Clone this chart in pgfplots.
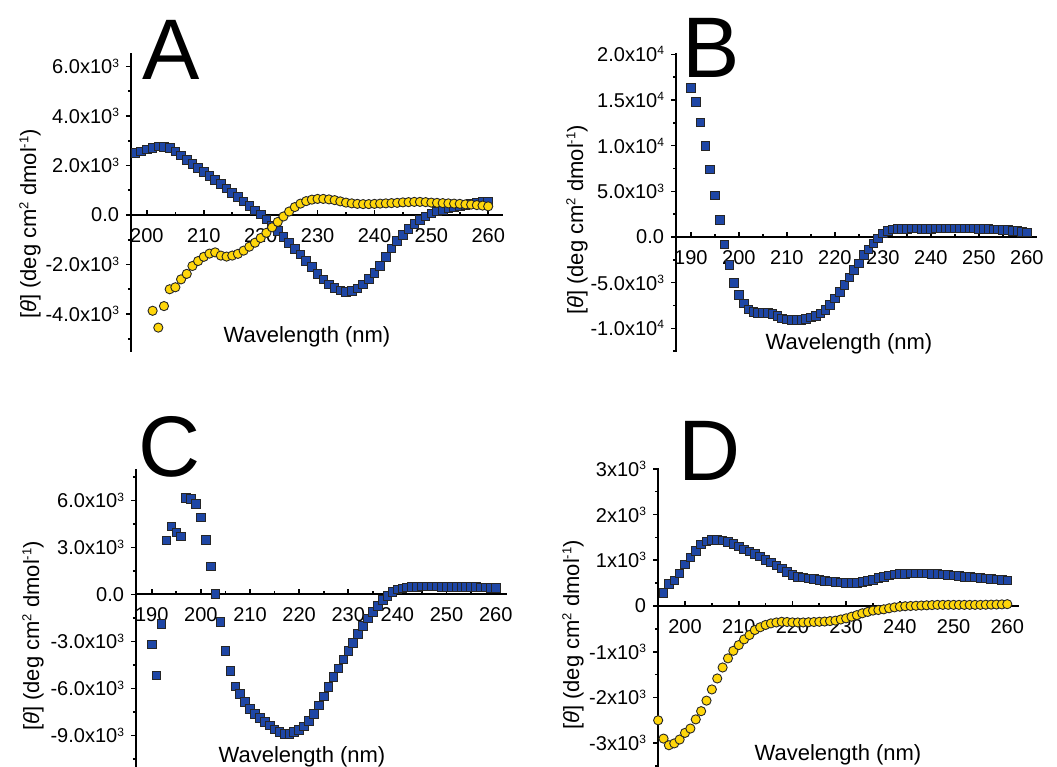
\documentclass[border=0pt]{standalone}
\usepackage{fontspec}
\setmainfont{Liberation Sans}
\usepackage{pgfplots}
\pgfplotsset{compat=1.18}

\definecolor{cdblue}{RGB}{30,70,165}
\definecolor{cdyellow}{RGB}{255,214,10}

\newcommand{\ex}[1]{x10\raisebox{3.4pt}{\fontsize{6}{6}\selectfont #1}}
\newcommand{\su}[1]{\raisebox{3.8pt}{\fontsize{6.5}{6.5}\selectfont #1}}
\newcommand{\ylab}{[\textit{θ}] (deg cm\su{2} dmol\su{-1})}

\pgfplotsset{
  cd/.style={
    scale only axis, anchor=south west,
    axis x line=middle, axis y line=left,
    axis line style={-, line width=1pt, black},
    tick align=outside,
    major tick length=2.5pt, minor tick length=1.5pt,
    every tick/.append style={black, line width=0.8pt},
    every major x tick/.append style={yshift=2.5pt},
    every minor x tick/.append style={yshift=1.5pt},
    xtick={190,200,...,260}, minor xtick={185,195,...,265},
    scaled y ticks=false,
    tick label style={font=\fontsize{10}{12}\selectfont},
    /pgf/number format/assume math mode=true,
    xticklabel style={yshift=-0.5pt},
  },
  bsq/.style={only marks, mark=square*, mark size=2.15pt,
    mark options={fill=cdblue, draw=black!85, line width=0.45pt}},
  ycirc/.style={only marks, mark=*, mark size=2.3pt,
    mark options={fill=cdyellow, draw=black!85, line width=0.45pt}},
}

\begin{document}
\begin{tikzpicture}
\useasboundingbox (0,0) rectangle (528.5pt,383.5pt);

% ---------- A ----------
\begin{axis}[cd, at={(65.5pt,207.5pt)}, width=186pt, height=149.5pt,
  xmin=197.2, xmax=262.6, ymin=-5535, ymax=6545,
  ytick={-4000,-2000,...,6000}, minor ytick={-5000,-3000,...,5000},
  yticklabels={-4.0\ex{3},-2.0\ex{3},0.0,2.0\ex{3},4.0\ex{3},6.0\ex{3}}]
\addplot[bsq] coordinates {
(197,2420) (198,2500) (199,2560) (200,2650) (201,2720) (202,2770) (203,2760)
(204,2700) (205,2560) (206,2400) (207,2230) (208,2060) (209,1900) (210,1740)
(211,1580) (212,1420) (213,1260) (214,1080) (215,900) (216,720) (217,540)
(218,360) (219,190) (220,20) (221,-180) (222,-420) (223,-650) (224,-880)
(225,-1120) (226,-1360) (227,-1600) (228,-1850) (229,-2100) (230,-2380)
(231,-2600) (232,-2800) (233,-2950) (234,-3050) (235,-3100) (236,-3080)
(237,-2970) (238,-2800) (239,-2580) (240,-2330) (241,-2050) (242,-1700)
(243,-1350) (244,-1050) (245,-800) (246,-560) (247,-360) (248,-200) (249,-60)
(250,60) (251,140) (252,210) (253,270) (254,320) (255,370) (256,410)
(257,450) (258,490) (259,520) (260,550)
};
\addplot[ycirc] coordinates {
(201,-3870) (202,-4550) (203,-3680) (204,-3000) (205,-2920) (206,-2600)
(207,-2380) (208,-2060) (209,-1860) (210,-1690) (211,-1560) (212,-1510)
(213,-1640) (214,-1680) (215,-1640) (216,-1570) (217,-1440) (218,-1280)
(219,-1120) (220,-930) (221,-720) (222,-500) (223,-280) (224,-60) (225,140)
(226,320) (227,460) (228,560) (229,620) (230,650) (231,650) (232,630)
(233,600) (234,550) (235,500) (236,470) (237,450) (238,440) (239,440)
(240,450) (241,460) (242,470) (243,480) (244,490) (245,510) (246,520)
(247,530) (248,530) (249,520) (250,500) (251,490) (252,480) (253,470)
(254,460) (255,450) (256,430) (257,420) (258,400) (259,380) (260,350)
};
\end{axis}

% ---------- B ----------
\begin{axis}[cd, at={(338pt,207.5pt)}, width=180.5pt, height=149.5pt,
  xmin=186.9, xmax=262.1, ymin=-12591, ymax=20146,
  ytick={-10000,-5000,...,20000}, minor ytick={-12500,-7500,...,17500},
  yticklabels={-1.0\ex{4},-5.0\ex{3},0.0,5.0\ex{3},1.0\ex{4},1.5\ex{4},2.0\ex{4}}]
\addplot[bsq] coordinates {
(190,16350) (191,14800) (192,12550) (193,9950) (194,7400) (195,4530)
(196,1860) (197,-800) (198,-3070) (199,-5000) (200,-6350) (201,-7260)
(202,-7920) (203,-8180) (204,-8290) (205,-8290) (206,-8290) (207,-8430)
(208,-8650) (209,-8900) (210,-9010) (211,-9090) (212,-9090) (213,-9090)
(214,-8980) (215,-8830) (216,-8650) (217,-8360) (218,-7990) (219,-7450)
(220,-6720) (221,-5990) (222,-5260) (223,-4420) (224,-3610) (225,-2880)
(226,-1970) (227,-1350) (228,-690) (229,-150) (230,400) (231,690) (232,840)
(233,880) (234,900) (235,910) (236,920) (237,920) (238,910) (239,910)
(240,910) (241,920) (242,920) (243,930) (244,930) (245,940) (246,950)
(247,950) (248,940) (249,930) (250,910) (251,890) (252,870) (253,840)
(254,810) (255,780) (256,740) (257,690) (258,630) (259,580) (260,520)
};
\end{axis}

% ---------- C ----------
\begin{axis}[cd, at={(68pt,0pt)}, width=185.35pt, height=149pt,
  xmin=186.8, xmax=262.24, ymin=-11021, ymax=8000,
  ytick={-9000,-6000,...,6000}, minor ytick={-10500,-7500,...,7500},
  yticklabels={-9.0\ex{3},-6.0\ex{3},-3.0\ex{3},0.0,3.0\ex{3},6.0\ex{3}}]
\addplot[bsq] coordinates {
(190,-3200) (191,-5170) (192,-1900) (193,3440) (194,4330) (195,3950)
(196,3690) (197,6150) (198,6090) (199,5770) (200,4910) (201,3480) (202,1770)
(203,40) (204,-1750) (205,-3630) (206,-4890) (207,-5870) (208,-6340)
(209,-6880) (210,-7300) (211,-7620) (212,-7880) (213,-8160) (214,-8370)
(215,-8630) (216,-8800) (217,-8900) (218,-8900) (219,-8800) (220,-8650)
(221,-8430) (222,-8090) (223,-7620) (224,-7090) (225,-6510) (226,-5920)
(227,-5270) (228,-4740) (229,-4160) (230,-3610) (231,-3100) (232,-2540)
(233,-2030) (234,-1540) (235,-1110) (236,-750) (237,-360) (238,-110)
(239,170) (240,320) (241,380) (242,440) (243,470) (244,490) (245,500)
(246,500) (247,500) (248,500) (249,490) (250,480) (251,480) (252,480)
(253,480) (254,480) (255,470) (256,460) (257,440) (258,430) (259,420) (260,420)
};
\end{axis}

% ---------- D ----------
\begin{axis}[cd, at={(329pt,0pt)}, width=180.5pt, height=149.5pt,
  xmin=194.97, xmax=262.18, ymin=-3521, ymax=3018,
  ytick={-3000,-2000,...,3000}, minor ytick={-3500,-2500,...,2500},
  yticklabels={-3\ex{3},-2\ex{3},-1\ex{3},0,1\ex{3},2\ex{3},3\ex{3}}]
\addplot[bsq] coordinates {
(196,280) (197,480) (198,555) (199,715) (200,910) (201,1060) (202,1210)
(203,1350) (204,1410) (205,1445) (206,1445) (207,1430) (208,1395) (209,1360)
(210,1300) (211,1240) (212,1190) (213,1140) (214,1080) (215,1010) (216,950)
(217,890) (218,825) (219,745) (220,680) (221,640) (222,620) (223,605)
(224,585) (225,570) (226,550) (227,535) (228,525) (229,518) (230,510)
(231,505) (232,510) (233,525) (234,545) (235,575) (236,610) (237,640)
(238,670) (239,690) (240,700) (241,705) (242,708) (243,710) (244,710)
(245,710) (246,705) (247,700) (248,690) (249,680) (250,670) (251,655)
(252,640) (253,630) (254,620) (255,610) (256,600) (257,590) (258,580)
(259,570) (260,560)
};
\addplot[ycirc] coordinates {
(195,-2500) (196,-2900) (197,-3045) (198,-3005) (199,-2920) (200,-2775)
(201,-2680) (202,-2480) (203,-2300) (204,-2070) (205,-1825) (206,-1585)
(207,-1345) (208,-1145) (209,-980) (210,-855) (211,-730) (212,-635)
(213,-525) (214,-465) (215,-415) (216,-380) (217,-360) (218,-345) (219,-350)
(220,-358) (221,-360) (222,-360) (223,-355) (224,-350) (225,-345) (226,-340)
(227,-330) (228,-320) (229,-295) (230,-270) (231,-235) (232,-200) (233,-160)
(234,-130) (235,-100) (236,-88) (237,-73) (238,-50) (239,-30) (240,-15)
(241,-5) (242,0) (243,5) (244,10) (245,15) (246,20) (247,25) (248,25)
(249,25) (250,25) (251,25) (252,25) (253,25) (254,25) (255,25) (256,28)
(257,30) (258,32) (259,35) (260,40)
};
\end{axis}

% labels
\begin{scope}[every node/.style={inner sep=0pt}]
\node[rotate=90, font=\fontsize{11}{13}\selectfont] at (15pt,271.5pt) {\ylab};
\node[rotate=90, font=\fontsize{11}{13}\selectfont] at (288.5pt,273.5pt) {\ylab};
\node[rotate=90, font=\fontsize{11}{13}\selectfont] at (16.5pt,65.5pt) {\ylab};
\node[rotate=90, font=\fontsize{11}{13}\selectfont] at (286.5pt,66pt) {\ylab};
\node[font=\fontsize{11}{13}\selectfont] at (153.5pt,215pt) {Wavelength (nm)};
\node[font=\fontsize{11}{13}\selectfont] at (424.5pt,211.5pt) {Wavelength (nm)};
\node[font=\fontsize{11}{13}\selectfont] at (151pt,5pt) {Wavelength (nm)};
\node[font=\fontsize{11}{13}\selectfont] at (419pt,6pt) {Wavelength (nm)};
\node[anchor=base west, font=\fontsize{43}{43}\selectfont] at (71pt,343.5pt) {A};
\node[anchor=base west, font=\fontsize{43}{43}\selectfont] at (341pt,344.5pt) {B};
\node[anchor=base west, font=\fontsize{43}{43}\selectfont] at (69pt,145pt) {C};
\node[anchor=base west, font=\fontsize{43}{43}\selectfont] at (339pt,143pt) {D};
\end{scope}
\end{tikzpicture}
\end{document}
